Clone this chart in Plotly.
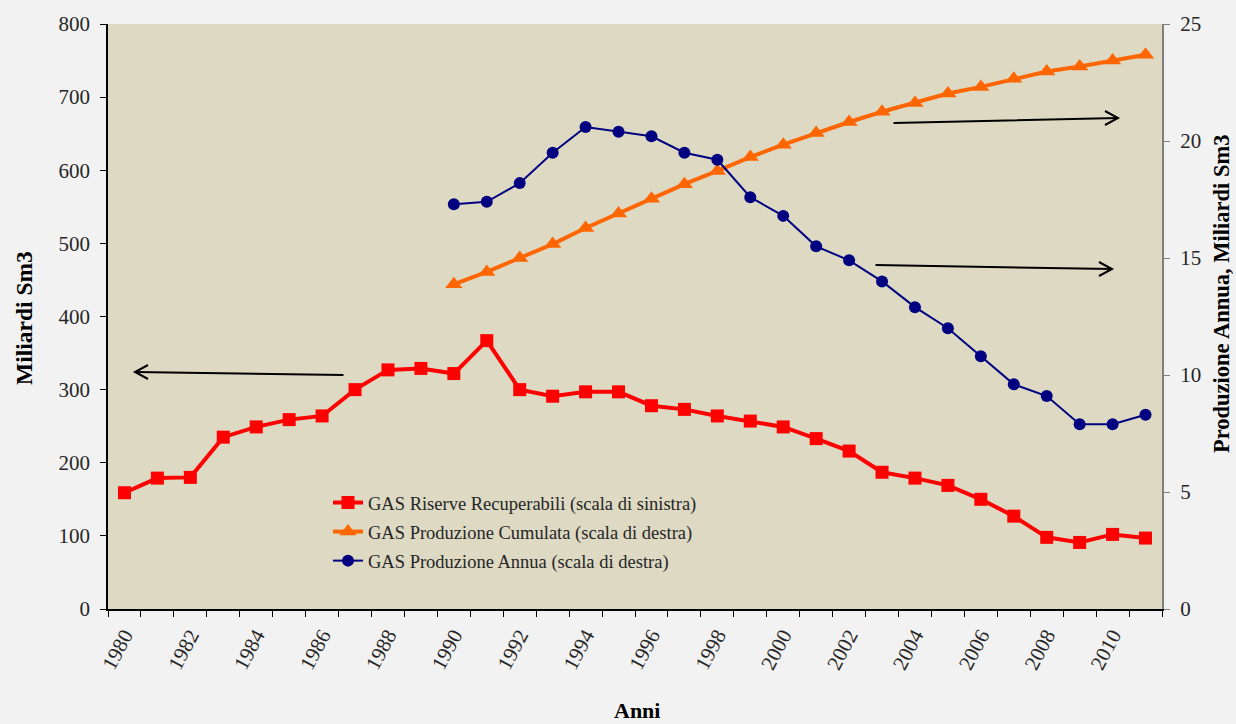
import plotly.graph_objects as go

years = list(range(1980, 2012))
riserve = [159, 179, 180, 235, 249, 259, 264, 300, 327, 329, 322, 367, 300, 291, 297, 297,
           278, 273, 264, 257, 249, 233, 216, 187, 179, 169, 150, 127, 98, 91, 102, 97]
cum_years = list(range(1990, 2012))
cumulata = [444, 461, 480, 499, 521, 541, 561, 581, 599, 618, 635, 651, 666, 680, 692, 705,
            714, 725, 735, 742, 750, 758]
annua = [17.3, 17.4, 18.2, 19.5, 20.6, 20.4, 20.2, 19.5, 19.2, 17.6, 16.8, 15.5, 14.9, 14.0,
         12.9, 12.0, 10.8, 9.6, 9.1, 7.9, 7.9, 8.3]
tick_text = [str(y) if y % 2 == 0 else "" for y in years]

FONT = "Liberation Serif"
TXT = "#262626"
cats = [str(y) for y in years]
cum_cats = [str(y) for y in cum_years]

fig = go.Figure()
fig.add_trace(go.Scatter(x=cats, y=riserve, mode="lines+markers", legendgroup="a",
                         name="GAS Riserve Recuperabili (scala di sinistra)",
                         line=dict(color="#FF0000", width=4),
                         marker=dict(symbol="square", size=13, color="#FF0000")))
fig.add_trace(go.Scatter(x=cum_cats, y=cumulata, mode="lines+markers", legendgroup="b",
                         name="GAS Produzione Cumulata (scala di destra)",
                         line=dict(color="#FF6600", width=4),
                         marker=dict(symbol="triangle-up", size=15, color="#FF6600")))
fig.add_trace(go.Scatter(x=cum_cats, y=annua, mode="lines+markers", yaxis="y2",
                         legendgroup="c",
                         name="GAS Produzione Annua (scala di destra)",
                         line=dict(color="#000080", width=2),
                         marker=dict(symbol="circle", size=12, color="#000080")))

fig.update_layout(
    width=1236, height=724,
    margin=dict(l=108, r=74, t=24, b=115),
    paper_bgcolor="#F2F2F2", plot_bgcolor="#DDD9C3",
    font=dict(family=FONT, size=21, color=TXT),
    showlegend=True,
    legend=dict(x=(328 - 108) / 1054, y=(609 - 484) / 585, xanchor="left", yanchor="top",
                bgcolor="rgba(0,0,0,0)", font=dict(family=FONT, size=18.5, color=TXT),
                tracegroupgap=2, itemwidth=30),
    xaxis=dict(type="category", categoryorder="array", categoryarray=cats,
               tickmode="array", tickvals=cats, ticktext=tick_text,
               tickson="boundaries", ticks="outside", ticklen=6, tickcolor="#000000",
               tickangle=-62, showline=True, linecolor="#000000", linewidth=1.5,
               showgrid=False, zeroline=False, range=[-0.5, len(cats) - 0.5],
               ticklabelstandoff=4, tickfont=dict(family=FONT, size=21, color=TXT)),
    yaxis=dict(range=[0, 800], dtick=100, ticks="outside", ticklen=6, tickcolor="#000000",
               showline=True, linecolor="#000000", linewidth=1.5, showgrid=False,
               zeroline=False, ticklabelstandoff=6,
               tickfont=dict(family=FONT, size=21, color=TXT)),
    yaxis2=dict(range=[0, 25], dtick=5, overlaying="y", side="right", ticks="outside",
                ticklen=6, tickcolor="#808080", showline=True, linecolor="#808080",
                linewidth=2, showgrid=False, zeroline=False, ticklabelstandoff=6,
                tickfont=dict(family=FONT, size=21, color=TXT)),
)

# arrows: (head x px, head y px, tail dx, tail dy, direction)
arrows = [
    (135, 372, 210, 3, -1),
    (1118, 118, -226, 5, 1),
    (1112, 269, -238, -4, 1),
]
for hx, hy, ax, ay, d in arrows:
    x = (hx - 108) / 1054
    y = (609 - hy) / 585
    fig.add_annotation(x=x, y=y, xref="paper", yref="paper", ax=ax, ay=ay,
                       axref="pixel", ayref="pixel", showarrow=True, arrowhead=0,
                       arrowwidth=2, arrowcolor="#000000", text="")
    fig.add_shape(type="path", xref="paper", yref="paper", xsizemode="pixel",
                  ysizemode="pixel", xanchor=x, yanchor=y,
                  path=f"M {-13 * d},7 L 0,0 L {-13 * d},-7",
                  line=dict(color="#000000", width=2))

fig.add_annotation(text="<b>Miliardi Sm3</b>", textangle=-90, xref="paper", yref="paper",
                   x=-84 / 1054, y=(609 - 318) / 585, xanchor="center", yanchor="middle",
                   showarrow=False, font=dict(family=FONT, size=23.5, color="#000000"))
fig.add_annotation(text="<b>Produzione Annua, Miliardi Sm3</b>", textangle=-90,
                   xref="paper", yref="paper", x=(1221 - 108) / 1054, y=(609 - 294) / 585,
                   xanchor="center", yanchor="middle", showarrow=False,
                   font=dict(family=FONT, size=22.5, color="#000000"))
fig.add_annotation(text="<b>Anni</b>", xref="paper", yref="paper",
                   x=(637 - 108) / 1054, y=(609 - 710) / 585, xanchor="center",
                   yanchor="middle", showarrow=False, font=dict(family=FONT, size=22, color="#000000"))

fig.write_html("out.html", post_script="document.body.style.margin='0';",
               config={"displayModeBar": False})
